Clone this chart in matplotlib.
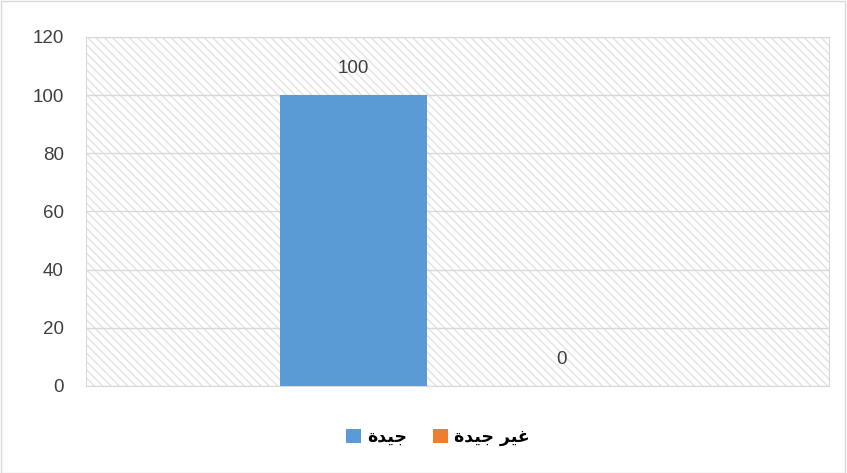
import matplotlib.pyplot as plt
from matplotlib.patches import Rectangle

# === Data ===
series_names = ["\uFE93\uFEAA\uFEF4\uFE9F", "\uFE93\uFEAA\uFEF4\uFE9F \uFEAE\uFEF4\uFECF"]  # جيدة / غير جيدة
values = [100, 0]
colors = ["#5b9bd5", "#ed7d31"]
offsets = [-0.14, 0.14]
yticks = [0, 20, 40, 60, 80, 100, 120]

plt.rcParams["font.family"] = ["Liberation Sans", "DejaVu Sans"]
plt.rcParams["hatch.linewidth"] = 1.0

fig = plt.figure(figsize=(8.47, 4.73), dpi=100)
ax = fig.add_axes([0.1015, 0.184, 0.8775, 0.738])

# hatched plot area background
bg = Rectangle((0, 0), 1, 1, transform=ax.transAxes, fill=False,
               hatch="\\\\\\\\", edgecolor="#e3e3e3", lw=0, zorder=0)
ax.add_patch(bg)

handles = []
for name, v, c, off in zip(series_names, values, colors, offsets):
    b = ax.bar(off, v, width=0.198, color=c, label=name, zorder=3)
    handles.append(b)
    ax.annotate(str(v), (off, v), xytext=(0, 13), textcoords="offset points",
                ha="center", va="bottom", fontsize=13.5, color="#404040")

ax.set_xlim(-0.5, 0.5)
ax.set_ylim(0, 120)
ax.set_yticks(yticks)
ax.set_xticks([])
ax.yaxis.grid(True, color="#d9d9d9", lw=1, zorder=1)
ax.set_axisbelow(True)
ax.tick_params(axis="y", length=0, labelsize=13.5, labelcolor="#404040", pad=16)
for s in ax.spines.values():
    s.set_color("#d9d9d9")

leg = fig.legend(handles=handles, loc="center", bbox_to_anchor=(0.517, 0.076),
                 ncol=2, frameon=False, handlelength=0.85, handleheight=0.85,
                 handletextpad=0.35, columnspacing=1.5,
                 prop={"family": "DejaVu Sans", "weight": "bold", "size": 12.5})

# outer chart border
fig.patches.append(Rectangle((0.001, 0.001), 0.997, 0.997, transform=fig.transFigure,
                             fill=False, edgecolor="#d9d9d9", lw=1))

fig.savefig("out.png", dpi=100)
